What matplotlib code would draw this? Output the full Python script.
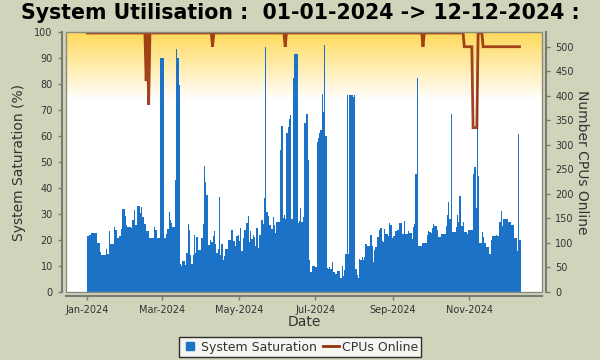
import numpy as np
import pandas as pd
import matplotlib
matplotlib.use("Agg")
import matplotlib.pyplot as plt
import matplotlib.dates as mdates
from matplotlib.lines import Line2D
from matplotlib.patches import Rectangle

# daily system saturation (%), 01-01-2024 .. 11-12-2024
saturation = [
    21.5, 21.8, 21.8, 22.6, 22.6, 22.6, 22.6, 22.6, 18.9, 18.9,
    15.3, 14.1, 14.1, 14.1, 14.1, 16.5, 14.5, 23.4, 18.4, 18.4,
    18.4, 25.0, 23.8, 23.8, 20.7, 21.5, 21.5, 24.2, 31.9, 31.9,
    29.2, 25.7, 25.0, 25.0, 25.0, 24.5, 27.6, 31.5, 25.7, 25.7,
    33.0, 33.0, 30.3, 32.6, 28.8, 26.1, 26.1, 23.4, 23.4, 20.7,
    20.7, 20.7, 20.7, 25.0, 23.8, 23.8, 20.7, 20.7, 90.1, 90.1,
    90.1, 20.7, 20.7, 22.2, 24.2, 30.7, 27.6, 26.5, 25.0, 25.0,
    43.0, 93.6, 90.1, 79.7, 10.7, 9.9, 11.8, 11.8, 10.3, 14.9,
    26.1, 23.8, 14.1, 10.7, 14.1, 21.8, 14.9, 21.1, 16.1, 16.1,
    16.1, 20.7, 26.1, 48.5, 42.3, 37.3, 18.0, 18.0, 19.9, 19.2,
    21.5, 23.4, 18.4, 14.9, 16.5, 36.5, 14.1, 18.4, 12.2, 13.8,
    16.5, 16.5, 19.9, 19.9, 19.9, 23.8, 19.5, 19.5, 17.6, 21.5,
    21.8, 19.5, 24.5, 15.7, 20.7, 23.8, 23.8, 26.5, 29.2, 19.2,
    23.4, 20.3, 21.8, 21.1, 17.6, 24.5, 16.8, 21.8, 21.8, 27.6,
    26.1, 36.1, 94.3, 30.7, 29.2, 25.7, 25.7, 24.2, 28.8, 25.7,
    22.6, 26.9, 26.9, 26.9, 54.6, 63.9, 28.4, 29.6, 28.0, 61.2,
    63.5, 66.6, 68.1, 28.0, 82.4, 91.6, 91.6, 91.6, 26.5, 27.2,
    32.3, 26.9, 28.8, 65.0, 65.0, 68.5, 50.8, 12.2, 7.6, 9.9,
    9.9, 9.9, 9.5, 57.7, 59.3, 61.2, 62.3, 76.2, 69.3, 95.1,
    60.0, 9.1, 8.7, 9.5, 8.7, 11.4, 7.6, 7.6, 6.8, 8.0,
    8.0, 8.0, 5.3, 9.9, 6.0, 8.4, 14.5, 75.8, 14.5, 75.8,
    75.8, 75.8, 75.0, 75.8, 8.7, 6.4, 5.3, 12.6, 12.2, 13.4,
    12.2, 13.4, 18.4, 17.6, 17.6, 17.6, 21.8, 17.6, 11.4, 16.1,
    17.2, 21.1, 21.1, 23.8, 24.5, 19.5, 19.2, 24.2, 22.2, 22.2,
    21.5, 26.5, 25.7, 20.7, 21.5, 21.5, 23.4, 23.8, 23.8, 26.5,
    26.5, 22.2, 22.2, 27.2, 22.2, 22.2, 23.4, 22.6, 22.6, 20.3,
    24.9, 26.1, 45.4, 82.4, 17.6, 17.6, 17.6, 18.8, 18.8, 18.8,
    18.8, 21.8, 23.4, 23.0, 22.6, 24.5, 26.1, 25.3, 25.3, 23.8,
    21.1, 21.1, 22.2, 22.2, 22.2, 22.2, 25.3, 29.6, 34.6, 28.0,
    68.5, 23.0, 23.0, 23.0, 24.9, 29.6, 26.9, 36.9, 25.3, 25.3,
    26.9, 23.0, 23.0, 22.2, 23.8, 23.8, 23.8, 23.8, 45.4, 48.1,
    32.3, 84.7, 44.6, 18.8, 18.8, 23.0, 21.1, 18.8, 17.2, 17.2,
    17.2, 14.5, 19.9, 21.5, 21.5, 21.5, 21.8, 21.5, 21.5, 26.9,
    31.1, 25.3, 28.0, 28.0, 28.0, 28.0, 26.9, 26.9, 25.7, 25.7,
    25.7, 20.7, 20.7, 15.7, 60.8, 19.9,
]

# CPUs online per day (runs of equal values)
cpus_online = ([528] * 47 + [430, 528, 382] + [528] * 50 + [500] + [528] * 57
               + [500] + [528] * 109 + [500] + [528] * 32 + [500] * 7
               + [335] * 4 + [528] * 4 + [500] * 30)

days = pd.date_range("2024-01-01", periods=len(saturation), freq="D")

left_ticks = list(range(0, 101, 10))
right_ticks = list(range(0, 501, 50))
month_ticks = [1, 3, 5, 7, 9, 11]

bg = "#d1d4ba"
bar_col = "#1b72c6"
line_col = "#97300a"
axis_col = "#7a7a72"
text_col = "#333333"

fig = plt.figure(figsize=(6, 3.6), dpi=100, facecolor=bg)
ax = fig.add_axes([0.11, 0.1889, 0.7933, 0.7214])
ax2 = ax.twinx()

# yellow -> white gradient in the top quarter of the plot
grad = np.linspace(0, 1, 100).reshape(-1, 1)
top = np.array([255, 217, 90]) / 255.0
rgb = top[None, None, :] * grad[:, :, None] + (1 - grad[:, :, None])
ax.set_facecolor("white")
ax.imshow(rgb, extent=[0, 1, 0.74, 1], transform=ax.transAxes,
          aspect="auto", origin="lower", zorder=0, interpolation="bilinear")

ax.bar(days, saturation, width=1.0, align="edge", color=bar_col,
       linewidth=0, antialiased=False, zorder=2)
ax2.plot(days, cpus_online, color=line_col, lw=2.0, alpha=0.9,
         solid_joinstyle="miter", zorder=3)

ax.set_xlim(pd.Timestamp("2023-12-15"), pd.Timestamp("2024-12-29"))
ax.set_ylim(0, 100)
ax2.set_ylim(0, 529.4)
ax.set_yticks(left_ticks)
ax2.set_yticks(right_ticks)
ax.xaxis.set_major_locator(mdates.MonthLocator(bymonth=month_ticks))
ax.xaxis.set_major_formatter(mdates.DateFormatter("%b-%Y"))

# frame round the plot area
ax2.add_patch(Rectangle((0, 0), 1, 1, transform=ax2.transAxes, fill=False,
                        edgecolor="#8a8a85", lw=1.0, zorder=10, clip_on=False))

for a in (ax, ax2):
    for s in a.spines.values():
        s.set_visible(False)
    a.tick_params(colors=axis_col, labelcolor=text_col, labelsize=7,
                  length=3, width=1)
ax.spines["left"].set_visible(True)
ax.spines["bottom"].set_visible(True)
ax2.spines["right"].set_visible(True)
for s in (ax.spines["left"], ax.spines["bottom"], ax2.spines["right"]):
    s.set_position(("outward", 3))
    s.set_color(axis_col)
    s.set_linewidth(1.5)

ax.set_xlabel("Date", fontsize=10, color=text_col, labelpad=0)
ax.set_ylabel("System Saturation (%)", fontsize=10, color=text_col, labelpad=6)
ax2.set_ylabel("Number CPUs Online", fontsize=10, color=text_col,
               rotation=270, labelpad=11)

fig.text(0.5, 0.964, "System Utilisation :  01-01-2024 -> 12-12-2024 :",
         ha="center", va="center", fontsize=14.8, fontweight="bold")

handles = [
    Line2D([], [], marker="s", markersize=6, color=bar_col, linestyle="none"),
    Line2D([], [], color=line_col, lw=2),
]
leg = fig.legend(handles, ["System Saturation", "CPUs Online"], loc="center",
                 bbox_to_anchor=(0.5, 0.036), ncol=2, fontsize=9,
                 frameon=True, fancybox=False, edgecolor="black",
                 handlelength=1.3, handletextpad=0.25, columnspacing=0.45,
                 borderpad=0.25, borderaxespad=0)
leg.get_frame().set_linewidth(1.0)
for t in leg.get_texts():
    t.set_color(text_col)

fig.savefig("out.png", dpi=100, facecolor=bg)
